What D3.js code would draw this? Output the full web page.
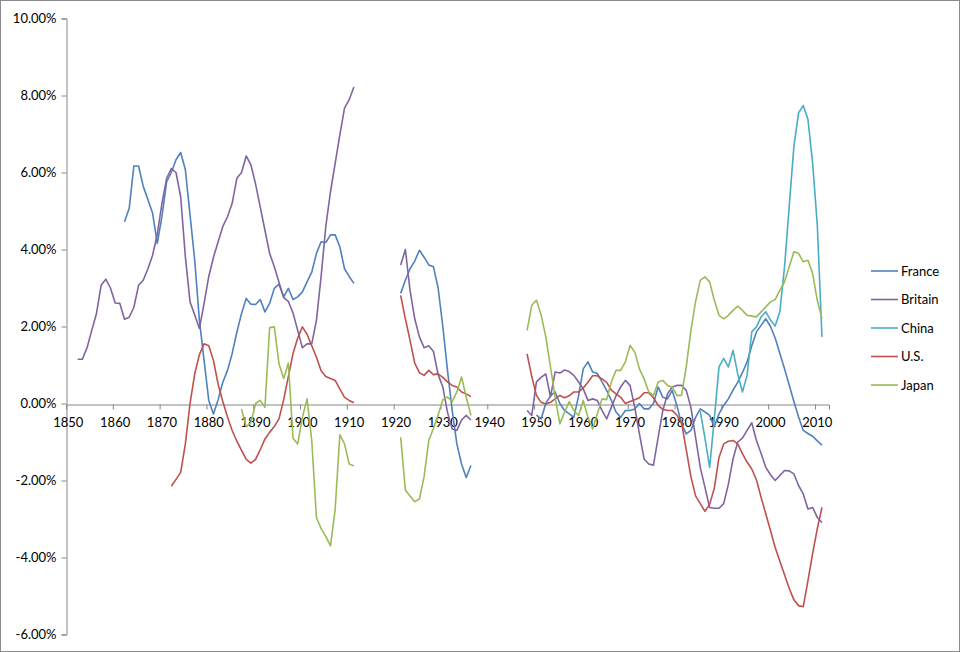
<!DOCTYPE html>
<html>
<head>
<meta charset="utf-8">
<script src="https://cdn.jsdelivr.net/npm/d3@7"></script>
<style>
  html, body { margin: 0; padding: 0; background: #fff; }
  svg { display: block; }
  text { font-family: Lato, "Open Sans", "Liberation Sans", sans-serif; }
</style>
</head>
<body>
<svg id="chart" width="960" height="652"></svg>
<script>
// ---------- DATA ----------
const seriesNames = ["France", "Britain", "China", "U.S.", "Japan"];
const seriesColors = ["#4F81BD", "#8064A2", "#4BACC6", "#C0504D", "#9BBB59"];
const yTicks = [-6, -4, -2, 0, 2, 4, 6, 8, 10];
const xTickYears = [1850, 1860, 1870, 1880, 1890, 1900, 1910, 1920, 1930, 1940, 1950, 1960, 1970, 1980, 1990, 2000, 2010];

// each series: list of segments [startYear, values...]
const france = [
  [1862, 4.72, 5.07, 6.17, 6.17, 5.64, 5.3, 4.94, 4.16, 4.86, 5.76, 6.0, 6.33, 6.52, 6.07, 4.9, 3.72, 2.16, 1.12, 0.08, -0.27,
   0.1, 0.55, 0.86, 1.3, 1.85, 2.34, 2.73, 2.58, 2.57, 2.7, 2.38, 2.6, 2.99, 3.1, 2.77, 2.99, 2.7, 2.77, 2.9, 3.16,
   3.41, 3.9, 4.2, 4.18, 4.38, 4.38, 4.07, 3.5, 3.3, 3.12],
  [1921, 2.86, 3.2, 3.5, 3.7, 3.98, 3.8, 3.6, 3.55, 3.0, 2.0, 0.86, -0.18, -1.05, -1.57, -1.92, -1.61],
  [1950, -0.3, -0.4, 0.0, 0.2, 0.3, 0.0, -0.18, -0.27, -0.36, 0.2, 0.9, 1.08, 0.82, 0.78, 0.56, 0.34, 0.08, -0.22, -0.36, -0.18,
   -0.18, -0.14, 0.0, -0.14, -0.14, 0.0, 0.43, 0.16, 0.12, 0.34, -0.05, -0.53, -0.79, -0.7, -0.36, -0.14, -0.22, -0.31, -0.6, -0.27,
   -0.05, 0.12, 0.35, 0.55, 0.8, 1.08, 1.5, 1.86, 2.03, 2.2, 2.0, 1.7, 1.3, 0.9, 0.48, 0.05, -0.35, -0.7, -0.78, -0.85,
   -0.97, -1.08]
];
const britain = [
  [1852, 1.15, 1.15, 1.45, 1.9, 2.33, 3.07, 3.23, 3.0, 2.61, 2.6, 2.19, 2.24, 2.5, 3.07, 3.2, 3.5, 3.85, 4.4, 5.2, 5.85,
   6.1, 6.0, 5.37, 3.81, 2.64, 2.3, 1.95, 2.6, 3.3, 3.8, 4.2, 4.6, 4.85, 5.2, 5.85, 6.0, 6.43, 6.2, 5.7, 5.1,
   4.5, 3.9, 3.55, 3.15, 2.75, 2.65, 2.35, 1.9, 1.45, 1.55, 1.55, 2.16, 3.3, 4.6, 5.5, 6.24, 6.98, 7.67, 7.89, 8.22],
  [1921, 3.6, 4.0, 2.94, 2.2, 1.73, 1.45, 1.5, 1.35, 0.75, 0.43, -0.23, -0.66, -0.7, -0.43, -0.31, -0.43],
  [1948, -0.18, -0.31, 0.56, 0.68, 0.77, 0.17, 0.82, 0.79, 0.87, 0.83, 0.73, 0.56, 0.38, 0.08, 0.12, 0.08, -0.18, -0.4, -0.1, 0.2,
   0.43, 0.6, 0.47, -0.1, -0.79, -1.44, -1.57, -1.6, -0.88, -0.18, 0.25, 0.43, 0.47, 0.47, 0.34, -0.1, -0.88, -1.66, -2.18, -2.7,
   -2.72, -2.72, -2.6, -2.1, -1.44, -1.0, -0.9, -0.7, -0.5, -0.96, -1.3, -1.66, -1.85, -2.0, -1.87, -1.74, -1.75, -1.83, -2.13, -2.35,
   -2.74, -2.7, -2.96, -3.09]
];
const china = [
  [1985, -0.2, -0.9, -1.66, -0.4, 0.95, 1.17, 0.95, 1.38, 0.77, 0.3, 0.73, 1.86, 1.99, 2.25, 2.38, 2.17, 2.01, 2.38, 3.55, 5.12,
   6.68, 7.55, 7.74, 7.38, 6.25, 4.64, 1.73]
];
const us = [
  [1872, -2.15, -1.97, -1.79, -1.05, 0.0, 0.77, 1.27, 1.55, 1.5, 1.12, 0.5, 0.05, -0.35, -0.7, -0.98, -1.22, -1.45, -1.55, -1.45, -1.2,
   -0.92, -0.75, -0.6, -0.4, 0.1, 0.7, 1.3, 1.7, 1.99, 1.8, 1.5, 1.2, 0.85, 0.7, 0.65, 0.6, 0.38, 0.16, 0.08, 0.02],
  [1921, 2.81, 2.2, 1.64, 1.05, 0.8, 0.73, 0.86, 0.75, 0.77, 0.68, 0.56, 0.47, 0.43, 0.3, 0.25, 0.18],
  [1948, 1.29, 0.7, 0.21, 0.03, -0.01, 0.03, 0.12, 0.21, 0.15, 0.2, 0.3, 0.3, 0.4, 0.55, 0.72, 0.72, 0.64, 0.55, 0.35, 0.25,
   0.16, 0.0, 0.05, 0.1, 0.15, 0.28, 0.28, 0.15, -0.05, -0.15, -0.18, -0.18, -0.3, -0.5, -1.2, -1.9, -2.4, -2.6, -2.8, -2.62,
   -2.2, -1.4, -1.05, -0.98, -0.96, -1.05, -1.3, -1.52, -1.7, -1.98, -2.44, -2.87, -3.3, -3.74, -4.1, -4.45, -4.8, -5.1, -5.25, -5.28,
   -4.6, -3.9, -3.25, -2.7]
];
const japan = [
  [1887, -0.14, -0.6, -0.5, 0.0, 0.08, -0.1, 1.97, 1.99, 1.03, 0.65, 1.05, -0.9, -1.05, -0.36, 0.12, -0.96, -2.96, -3.25, -3.45, -3.7,
   -2.75, -0.81, -1.05, -1.57, -1.62],
  [1921, -0.88, -2.25, -2.4, -2.55, -2.48, -1.9, -0.96, -0.65, -0.3, 0.1, 0.17, 0.05, 0.3, 0.69, 0.17, -0.31],
  [1948, 1.9, 2.55, 2.68, 2.3, 1.73, 0.95, 0.16, -0.53, -0.23, 0.05, -0.18, -0.31, 0.08, -0.36, -0.66, -0.27, 0.12, 0.1, 0.56, 0.86,
   0.86, 1.08, 1.51, 1.34, 0.9, 0.64, 0.3, 0.21, 0.56, 0.6, 0.47, 0.43, 0.21, 0.21, 0.95, 1.9, 2.65, 3.2, 3.29, 3.16,
   2.68, 2.29, 2.2, 2.29, 2.42, 2.53, 2.42, 2.29, 2.27, 2.25, 2.38, 2.51, 2.64, 2.7, 2.94, 3.16, 3.55, 3.94, 3.9, 3.68,
   3.72, 3.38, 2.68, 2.2]
];
const seriesData = [france, britain, china, us, japan];

// ---------- CHART ----------
const svg = d3.select("#chart");
const axisColor = "#868686";

svg.append("rect").attr("x", 0.5).attr("y", 0.5).attr("width", 959).attr("height", 651)
  .attr("fill", "#fff").attr("stroke", "#8a8a8a").attr("stroke-width", 1);

const x = d3.scaleLinear().domain([1849.5, 2012.5]).range([66, 829]);
const y = d3.scaleLinear().domain([-6, 10]).range([634.5, 18.5]);

// Y axis
const yAxis = svg.append("g").attr("transform", "translate(66.5,0)")
  .call(d3.axisLeft(y).tickValues(yTicks).tickFormat(d => d.toFixed(2) + "%").tickSizeOuter(0).tickSize(5).tickPadding(5));
yAxis.select(".domain").attr("stroke", axisColor);
yAxis.selectAll(".tick line").attr("stroke", axisColor);
yAxis.selectAll(".tick text").attr("fill", "#000").style("font-size", "13px").style("font-family", "Lato, 'Open Sans', sans-serif");

// X axis at zero
const y0 = Math.round(y(0)) + 0.5;
const xAxis = svg.append("g").attr("transform", `translate(0,${y0})`)
  .call(d3.axisBottom(x).tickValues(xTickYears.slice(1).map(v => v - 0.5)).tickFormat("").tickSizeOuter(0).tickSize(5));
xAxis.select(".domain").attr("stroke", axisColor);
xAxis.selectAll(".tick line").attr("stroke", axisColor);

svg.append("g").selectAll("text").data(xTickYears).join("text")
  .attr("x", d => x(d)).attr("y", y0 + 22)
  .attr("text-anchor", "middle").attr("fill", "#000").style("font-size", "13px")
  .text(d => d);

// Lines
const line = d3.line().x(d => x(d[0])).y(d => y(d[1]));
seriesData.forEach((segs, i) => {
  segs.forEach(seg => {
    const start = seg[0];
    const pts = seg.slice(1).map((v, k) => [start + k, v]);
    svg.append("path").datum(pts).attr("d", line)
      .attr("fill", "none").attr("stroke", seriesColors[i]).attr("stroke-width", 1.6)
      .attr("stroke-linejoin", "round");
  });
});

// Legend
const legend = svg.append("g");
seriesNames.forEach((name, i) => {
  const ly = 271 + i * 28.5;
  legend.append("line").attr("x1", 871).attr("x2", 898).attr("y1", ly).attr("y2", ly)
    .attr("stroke", seriesColors[i]).attr("stroke-width", 1.6);
  legend.append("text").attr("x", 901).attr("y", ly + 4.5).attr("fill", "#000")
    .style("font-size", "13px").text(name);
});
</script>
</body>
</html>
